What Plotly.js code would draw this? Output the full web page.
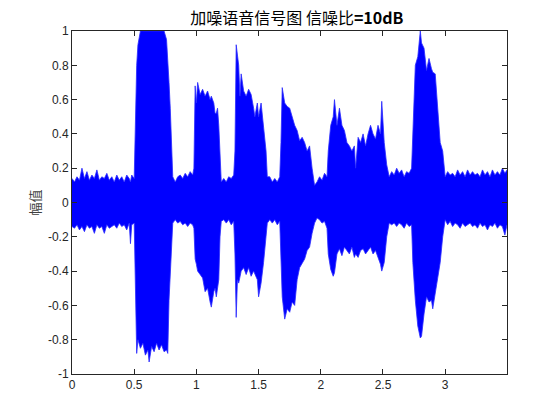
<!DOCTYPE html>
<html>
<head>
<meta charset="utf-8">
<script src="https://cdn.plot.ly/plotly-3.0.1.min.js"></script>
<style>html,body{margin:0;padding:0;background:#fff;}#chart{width:560px;height:420px;}</style>
</head>
<body>
<div id="chart"></div>
<script>
// time (s), upper envelope, lower envelope of the noisy speech waveform
const time = [
0.00,0.02,0.04,0.06,0.08,0.10,0.12,0.14,0.16,0.18,0.20,0.22,0.24,0.26,0.28,0.30,0.32,0.34,0.36,0.38,0.40,0.42,0.44,0.46,0.47,0.48,0.50,
0.51,0.52,0.53,0.55,0.57,0.59,0.61,0.62,0.64,0.66,0.68,0.70,0.72,0.74,0.76,0.77,0.78,0.79,0.80,0.81,
0.83,0.85,0.87,0.89,0.91,0.93,0.95,0.97,0.98,
0.99,1.00,1.01,1.03,1.05,1.07,1.09,1.11,1.12,1.14,1.15,1.16,1.17,1.18,1.19,1.20,
1.22,1.24,1.26,1.28,1.30,
1.31,1.32,1.33,1.34,1.35,1.36,1.38,1.40,1.42,1.44,1.46,1.47,1.49,1.50,1.52,1.54,1.56,1.57,
1.59,1.61,1.63,1.65,1.67,
1.68,1.69,1.71,1.73,1.75,1.77,1.79,1.81,1.83,1.85,1.87,1.89,1.91,1.93,1.95,
1.97,1.99,2.01,2.03,2.05,
2.06,2.08,2.10,2.11,2.13,2.15,2.17,2.19,2.21,2.23,2.25,2.27,2.28,2.30,2.32,2.34,2.36,2.38,2.40,2.42,2.44,2.46,2.48,2.49,2.51,2.53,2.55,
2.57,2.59,2.61,2.63,2.65,2.67,2.69,2.71,2.73,
2.74,2.76,2.78,2.80,2.81,2.83,2.85,2.87,2.89,2.90,2.92,2.94,2.96,2.98,3.00,
3.02,3.04,3.06,3.08,3.10,3.12,3.14,3.16,3.18,3.20,3.22,3.24,3.26,3.28,3.30,3.32,3.34,3.36,3.38,3.40,3.42,3.44,3.46,3.48,3.497
];
const upper = [
0.14,0.12,0.15,0.13,0.20,0.14,0.18,0.13,0.16,0.14,0.19,0.13,0.15,0.14,0.17,0.13,0.15,0.12,0.16,0.13,0.15,0.12,0.16,0.14,0.12,0.16,0.14,
0.45,0.80,0.92,1.00,1.00,1.00,1.00,1.00,1.00,1.00,1.00,1.00,1.00,1.00,0.95,0.85,0.70,0.55,0.35,0.15,
0.12,0.15,0.16,0.14,0.17,0.15,0.18,0.16,0.20,
0.68,0.58,0.70,0.63,0.66,0.62,0.65,0.60,0.62,0.58,0.52,0.52,0.55,0.45,0.25,0.12,
0.14,0.12,0.15,0.14,0.16,
0.30,0.92,0.85,0.80,0.62,0.75,0.65,0.62,0.66,0.63,0.55,0.50,0.58,0.50,0.58,0.45,0.30,0.15,
0.15,0.12,0.14,0.12,0.15,
0.35,0.67,0.58,0.56,0.55,0.50,0.45,0.42,0.36,0.38,0.35,0.30,0.33,0.20,0.10,
0.12,0.15,0.13,0.17,0.15,
0.30,0.45,0.50,0.60,0.45,0.55,0.45,0.42,0.35,0.33,0.30,0.33,0.20,0.38,0.35,0.40,0.33,0.40,0.45,0.40,0.37,0.45,0.40,0.59,0.35,0.22,0.15,
0.18,0.16,0.20,0.17,0.19,0.15,0.18,0.17,0.20,
0.40,0.80,0.85,1.00,0.93,0.90,0.77,0.84,0.78,0.76,0.75,0.55,0.35,0.30,0.15,
0.18,0.16,0.17,0.15,0.19,0.16,0.18,0.15,0.19,0.16,0.18,0.16,0.17,0.15,0.19,0.16,0.18,0.15,0.19,0.16,0.18,0.16,0.20,0.17,0.19
];
const lower = [
-0.14,-0.15,-0.13,-0.16,-0.14,-0.17,-0.13,-0.15,-0.14,-0.18,-0.13,-0.15,-0.14,-0.18,-0.13,-0.15,-0.14,-0.13,-0.15,-0.12,-0.14,-0.13,-0.16,-0.12,-0.24,-0.13,-0.12,
-0.60,-0.88,-0.80,-0.85,-0.82,-0.89,-0.86,-0.93,-0.84,-0.87,-0.82,-0.86,-0.83,-0.87,-0.86,-0.88,-0.57,-0.40,-0.22,-0.12,
-0.10,-0.12,-0.11,-0.13,-0.12,-0.14,-0.12,-0.13,-0.15,
-0.33,-0.36,-0.40,-0.42,-0.44,-0.52,-0.50,-0.58,-0.61,-0.52,-0.50,-0.55,-0.48,-0.45,-0.20,-0.11,
-0.10,-0.12,-0.10,-0.13,-0.11,
-0.30,-0.67,-0.45,-0.47,-0.43,-0.40,-0.38,-0.42,-0.38,-0.43,-0.40,-0.42,-0.45,-0.55,-0.47,-0.35,-0.22,-0.12,
-0.10,-0.12,-0.10,-0.13,-0.11,
-0.30,-0.55,-0.68,-0.62,-0.64,-0.58,-0.60,-0.45,-0.38,-0.35,-0.33,-0.28,-0.26,-0.18,-0.12,
-0.09,-0.10,-0.12,-0.11,-0.15,
-0.30,-0.39,-0.43,-0.41,-0.30,-0.27,-0.31,-0.26,-0.28,-0.30,-0.26,-0.32,-0.30,-0.32,-0.28,-0.27,-0.30,-0.28,-0.26,-0.30,-0.28,-0.32,-0.36,-0.40,-0.35,-0.20,-0.12,
-0.13,-0.12,-0.14,-0.12,-0.13,-0.15,-0.12,-0.14,-0.13,
-0.35,-0.57,-0.72,-0.79,-0.78,-0.65,-0.55,-0.58,-0.57,-0.62,-0.52,-0.45,-0.35,-0.20,-0.10,
-0.13,-0.11,-0.14,-0.12,-0.13,-0.15,-0.12,-0.14,-0.13,-0.12,-0.14,-0.13,-0.15,-0.12,-0.14,-0.13,-0.16,-0.13,-0.14,-0.12,-0.15,-0.13,-0.14,-0.19,-0.13
];
const xTicks = [0, 0.5, 1, 1.5, 2, 2.5, 3];
const xTickText = ['0','0.5','1','1.5','2','2.5','3'];
const yTicks = [-1,-0.8,-0.6,-0.4,-0.2,0,0.2,0.4,0.6,0.8,1];
const yTickText = ['-1','-0.8','-0.6','-0.4','-0.2','0','0.2','0.4','0.6','0.8','1'];

const blue = '#0000FF';
const traces = [
  {x: time, y: lower, type: 'scatter', mode: 'lines', line: {color: '#2a2aff', width: 0.8}, hoverinfo: 'skip', showlegend: false},
  {x: time, y: upper, type: 'scatter', mode: 'lines', line: {color: '#2a2aff', width: 0.8}, fill: 'tonexty', fillcolor: blue, hoverinfo: 'skip', showlegend: false}
];
const axisCommon = {
  showline: true, mirror: 'ticks', linecolor: '#262626', linewidth: 1,
  ticks: 'inside', ticklen: 5, tickcolor: '#262626', tickwidth: 1,
  showgrid: false, zeroline: false,
  tickfont: {family: 'Liberation Sans, Arial, sans-serif', size: 12, color: '#262626'}
};
const layout = {
  width: 560, height: 420,
  margin: {l: 72, r: 53, t: 31, b: 46},
  paper_bgcolor: '#fff', plot_bgcolor: '#fff',
  title: {text: '加噪语音信号图 信噪比<b>=10dB</b>', x: 0.517, xanchor: 'center', xref: 'paper', y: 0.957, yanchor: 'middle',
    font: {family: 'Noto Sans CJK SC, Liberation Sans, sans-serif', size: 16, color: '#000'}},
  xaxis: Object.assign({}, axisCommon, {range: [0, 3.497], tickvals: xTicks, ticktext: xTickText}),
  yaxis: Object.assign({}, axisCommon, {range: [-1, 1], tickvals: yTicks, ticktext: yTickText,
    title: {text: '幅值', standoff: 4, font: {family: 'Noto Sans CJK SC, sans-serif', size: 13, color: '#404040'}}})
};
Plotly.newPlot('chart', traces, layout, {staticPlot: true, displayModeBar: false});
</script>
</body>
</html>
